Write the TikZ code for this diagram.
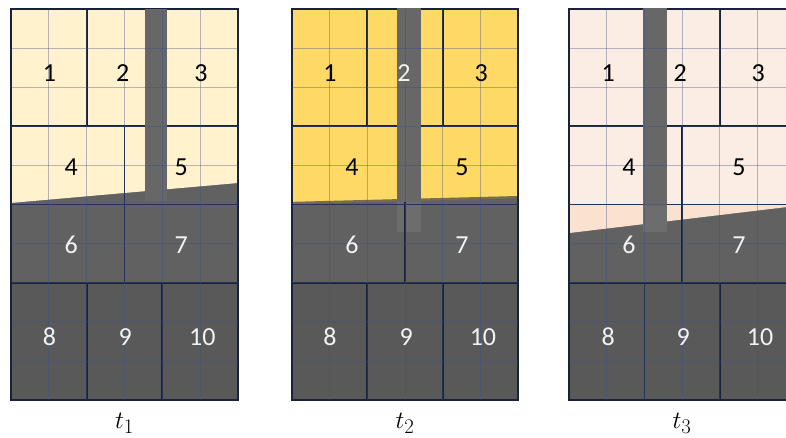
\documentclass[tikz,border=0pt]{standalone}
\usepackage{fontspec}
\setmainfont{Carlito}
\definecolor{paleyellow}{HTML}{FFF2CC}
\definecolor{goldyellow}{HTML}{FFD966}
\definecolor{palepink}{HTML}{FCEDE4}
\definecolor{peach}{HTML}{FBE1D0}
\definecolor{darkgrey}{HTML}{595959}
\definecolor{midgrey}{HTML}{616161}
\definecolor{stripgrey}{HTML}{676767}
\definecolor{softgrey}{HTML}{6D6D6D}
\definecolor{gridblue}{HTML}{3A4F8A}
\definecolor{edgenavy}{HTML}{18233A}
\definecolor{numwhite}{HTML}{F2F2F2}
\begin{document}
\begin{tikzpicture}[x=1pt, y=-1pt,
    finegrid/.style={gridblue, opacity=0.38, line width=0.8pt},
    edge/.style={edgenavy, line width=1.7pt},
    num/.style={font=\fontsize{26}{26}\selectfont, inner sep=0pt},
    tlab/.style={font=\fontsize{28}{28}\selectfont, inner sep=0pt}]
    \useasboundingbox (0,0) rectangle (786,437);
    \clip (0,0) rectangle (786,437);
    \fill[white] (0,0) rectangle (786,437);

    % 第一幅：t1
    \begin{scope}[xshift=11pt, yshift=-9pt, x=37.83pt, y=-39.1pt]
        \fill[midgrey] (0,0) rectangle (6,10);
        \fill[darkgrey] (0,7) rectangle (6,10);
        \fill[paleyellow] (0,0) -- (6,0) -- (6,4.45) -- (0,4.96) -- cycle;
        % 区域边界
        \draw[edge] (0,3) -- (6,3) (0,5) -- (6,5) (0,7) -- (6,7);
        \draw[edge] (2,0) -- (2,3) (4,0) -- (4,3) (3,3) -- (3,7) (2,7) -- (2,10) (4,7) -- (4,10);
        \draw[edge] (0,0) rectangle (6,10);
        % 竖条
        \fill[stripgrey] (3.54,0) rectangle (4.12,4.9);
        \foreach \c in {1,...,5} \draw[finegrid] (\c,0) -- (\c,10);
        \foreach \r in {1,...,9} \draw[finegrid] (0,\r) -- (6,\r);
        \foreach \n/\c/\r/\col in {1/1.02/1.64/black, 2/2.95/1.64/black, 3/5.02/1.64/black,
                4/1.59/4.04/black, 5/4.5/4.04/black, 6/1.59/6.04/numwhite, 7/4.5/6.04/numwhite,
                8/1.02/8.39/numwhite, 9/3.02/8.39/numwhite, 10/5.06/8.39/numwhite}
            \node[num, text=\col] (a\n) at (\c,\r) {\n};
        \node[tlab] (ta) at (3,10.6) {$t_1$};
    \end{scope}

    % 第二幅：t2
    \begin{scope}[xshift=292pt, yshift=-9pt, x=37.67pt, y=-39.1pt]
        \fill[midgrey] (0,0) rectangle (6,10);
        \fill[darkgrey] (0,7) rectangle (6,10);
        \fill[goldyellow] (0,0) -- (6,0) -- (6,4.81) -- (0,4.96) -- cycle;
        \draw[line width=2.2pt, color=black!55!goldyellow!60!gray] (0,4.96) -- (6,4.81);
        \fill[softgrey] (2.79,4.9) rectangle (3.42,5.7);
        % 区域边界
        \draw[edge] (0,3) -- (6,3) (0,5) -- (6,5) (0,7) -- (6,7);
        \draw[edge] (2,0) -- (2,3) (4,0) -- (4,3) (3,3) -- (3,7) (2,7) -- (2,10) (4,7) -- (4,10);
        \draw[edge] (0,0) rectangle (6,10);
        % 竖条
        \fill[stripgrey] (2.79,-0.03) rectangle (3.42,4.93);
        \foreach \c in {1,...,5} \draw[finegrid] (\c,0) -- (\c,10);
        \foreach \r in {1,...,9} \draw[finegrid] (0,\r) -- (6,\r);
        \foreach \n/\c/\r/\col in {1/1.01/1.64/black, 2/2.97/1.64/numwhite, 3/5.02/1.64/black,
                4/1.59/4.04/black, 5/4.51/4.04/black, 6/1.59/6.04/numwhite, 7/4.51/6.04/numwhite,
                8/1.01/8.39/numwhite, 9/3.03/8.39/numwhite, 10/5.07/8.39/numwhite}
            \node[num, text=\col] (b\n) at (\c,\r) {\n};
        \node[tlab] (tb) at (3,10.6) {$t_2$};
    \end{scope}

    % 第三幅：t3
    \begin{scope}[xshift=569pt, yshift=-9pt, x=37.67pt, y=-39.1pt]
        \fill[midgrey] (0,0) rectangle (6,10);
        \fill[darkgrey] (0,7) rectangle (6,10);
        \fill[palepink] (0,0) rectangle (6,5);
        \fill[peach] (0,5) -- (6,5) -- (6,5.04) -- (0,5.73) -- cycle;
        \fill[softgrey] (1.96,5) rectangle (2.60,5.7);
        % 区域边界
        \draw[edge] (0,3) -- (6,3) (0,5) -- (6,5) (0,7) -- (6,7);
        \draw[edge] (2,0) -- (2,3) (4,0) -- (4,3) (3,3) -- (3,7) (2,7) -- (2,10) (4,7) -- (4,10);
        \draw[edge] (0,0) rectangle (6,10);
        % 竖条
        \fill[stripgrey] (1.96,-0.03) rectangle (2.60,5.03);
        \foreach \c in {1,...,5} \draw[finegrid] (\c,0) -- (\c,10);
        \foreach \r in {1,...,9} \draw[finegrid] (0,\r) -- (6,\r);
        \foreach \n/\c/\r/\col in {1/1.04/1.64/black, 2/2.95/1.64/black, 3/5.02/1.64/black,
                4/1.59/4.04/black, 5/4.51/4.04/black, 6/1.59/6.04/numwhite, 7/4.51/6.04/numwhite,
                8/1.04/8.39/numwhite, 9/3.03/8.39/numwhite, 10/5.07/8.39/numwhite}
            \node[num, text=\col] (c\n) at (\c,\r) {\n};
        \node[tlab] (tc) at (3,10.6) {$t_3$};
    \end{scope}
\end{tikzpicture}
\end{document}
